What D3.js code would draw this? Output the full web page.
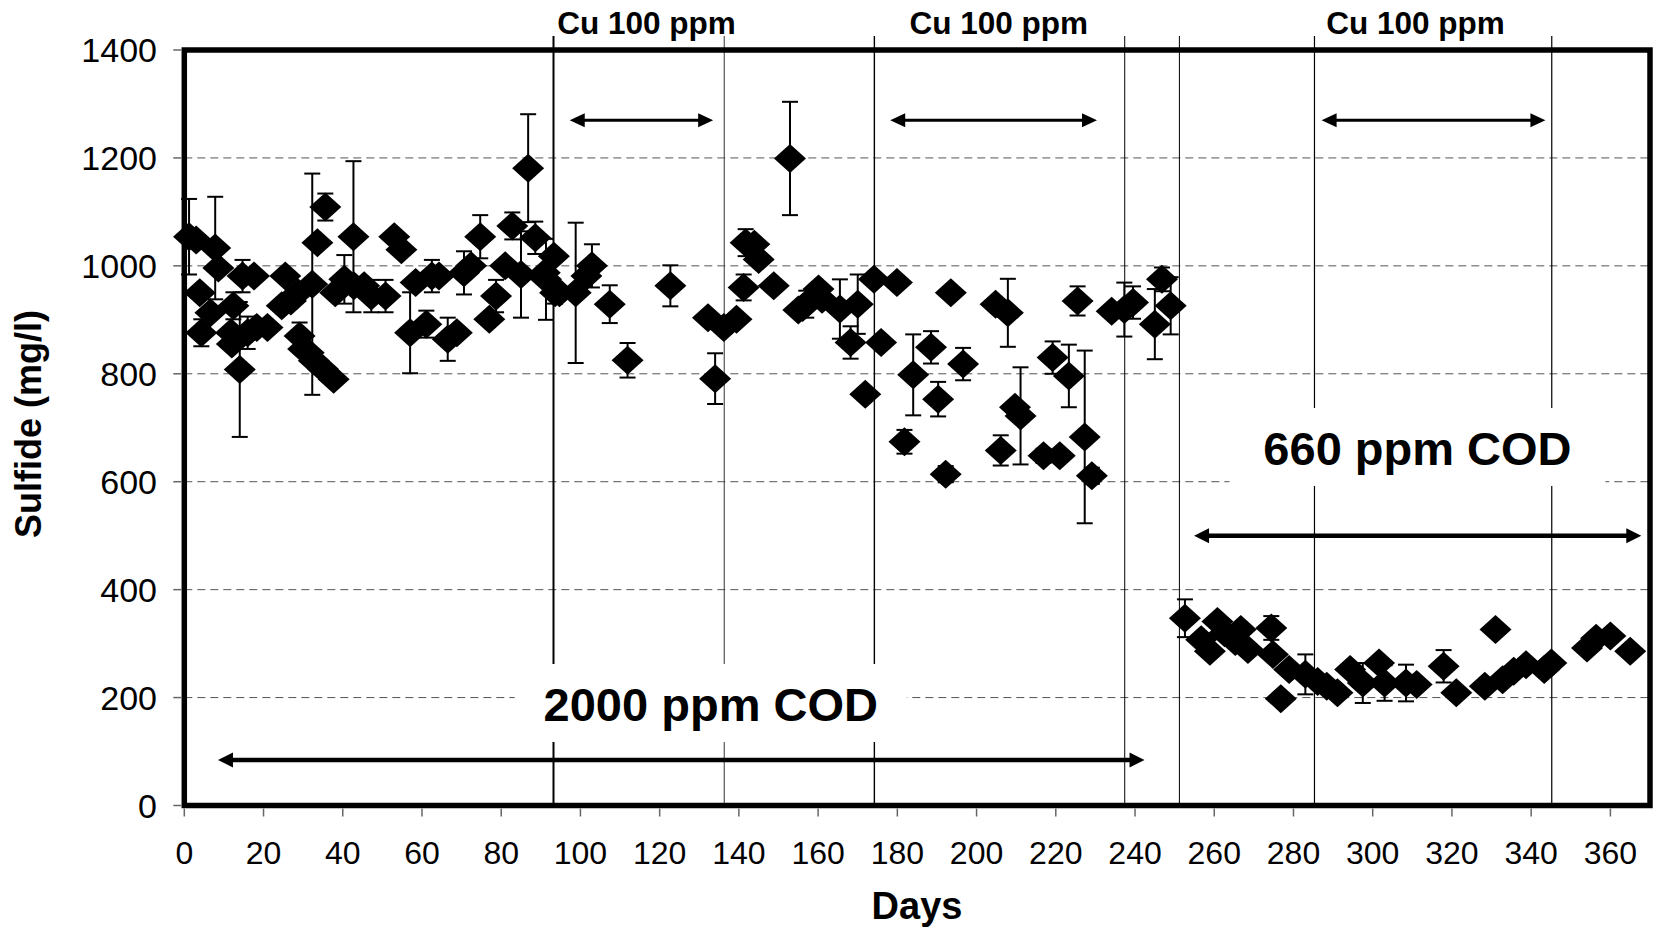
<!DOCTYPE html>
<html>
<head>
<meta charset="utf-8">
<script src="https://cdn.jsdelivr.net/npm/d3@7"></script>
<style>
  body { margin: 0; background: #fff; }
  text { font-family: "Liberation Sans", Arial, sans-serif; fill: #000; }
</style>
</head>
<body>
<div id="chart"></div>
<script>
// sulfide readings (day, mg/l, +/- error)
var days = [1.2,3.0,3.9,4.3,6.6,7.8,8.6,11.8,12.0,12.4,14.0,14.7,16.0,17.6,18.3,21.0,24.6,25.5,26.9,28.7,
  29.1,30.0,31.4,32.3,32.7,33.6,35.0,35.6,37.7,38.1,40.4,42.7,42.8,45.4,47.2,50.8,53.0,54.8,57.0,58.4,
  61.1,62.5,64.3,66.5,68.8,70.6,72.4,74.7,77.0,78.7,81.0,82.8,85.0,86.8,88.6,91.0,91.3,93.3,93.6,94.7,
  98.8,101.5,102.9,107.4,111.9,122.7,132.2,134.0,136.2,139.4,141.2,141.7,143.9,145.0,148.8,152.9,155.0,156.1,157.0,160.1,
  161.0,165.5,168.2,170.0,171.9,174.1,175.9,179.9,
  181.8,184.0,188.5,190.3,192.2,193.5,196.6,204.8,206.1,207.9,209.7,211.1,216.9,219.2,221.0,223.3,225.5,227.3,229.1,234.1,
  237.3,239.5,245.0,246.8,249.0,
  252.6,256.7,258.9,260.8,262.6,265.3,266.7,268.5,274.4,274.8,276.8,278.9,283.0,286.1,288.4,291.1,294.3,297.5,301.6,303.0,
  308.4,311.1,317.9,321.1,328.3,331.0,332.8,335.6,338.7,343.3,345.1,354.1,356.4,360.0,365.0];

var sulfide = [1054,1048,950,876,913,1033,996,876,855,926,808,981,876,981,886,886,926,981,935,950,
  870,846,839,966,824,1043,809,1109,790,950,975,1054,963,963,944,944,1054,1030,876,969,
  892,981,981,864,876,987,1000,1054,901,944,1000,1074,984,1181,1052,987,975,1018,950,950,
  950,981,1000,929,825,963,904,791,886,901,960,1043,1040,1012,963,1199,918,923,929,957,
  938,920,858,929,762,975,858,969,
  674,798,849,753,614,950,818,929,658,913,738,722,648,830,648,796,935,683,611,916,
  919,932,892,975,926,
  347,307,286,341,320,304,326,289,329,280,198,252,243,230,221,209,252,227,264,227,
  227,224,258,209,221,326,233,249,261,252,264,292,310,314,286];

var errs = [70,0,0,25,0,95,0,0,0,25,125,30,30,0,0,0,0,0,0,0,
  25,0,0,205,0,0,0,25,0,0,45,140,0,0,30,30,0,0,75,0,
  25,30,0,40,0,40,0,40,0,30,0,25,80,100,30,0,75,0,20,0,
  130,0,40,35,32,38,0,47,0,0,24,25,0,0,0,105,0,0,25,0,
  0,55,30,55,0,0,0,0,
  22,75,30,32,15,0,30,0,28,63,0,90,13,30,0,58,27,160,15,0,
  50,30,65,22,53,
  35,0,0,0,0,0,0,0,22,0,0,0,37,0,0,0,0,37,0,33,
  34,0,30,0,0,0,0,0,0,0,0,0,0,0,0];

var xTicks = d3.range(0, 361, 20);
var yTicks = d3.range(0, 1401, 200);

// days where the phase lines are drawn
var phaseDays = [93.2, 136.3, 174.2, 237.4, 251.2, 285.3, 345.2];
var phaseWidth = [2, 1, 1.4, 1, 1, 1.2, 1.2];

// copper dosing periods (arrows at top) and labels
var cuLabelDays = [116.7, 205.6, 310.8];
var cuArrows = [[97.3, 133.5], [178.2, 230.4], [287.1, 343.6]];

var W = 1653, H = 931;

var svg = d3.select("#chart").append("svg")
    .attr("width", W)
    .attr("height", H);

var x = d3.scaleLinear().domain([0, 370]).range([184.3, 1650]);
var y = d3.scaleLinear().domain([0, 1400]).range([805.5, 50]);

//dashed horizontal grid
svg.append("g").selectAll("line")
    .data(yTicks.slice(1, -1))
    .enter().append("line")
    .attr("x1", x(0)).attr("x2", x(370))
    .attr("y1", function(d){ return y(d); })
    .attr("y2", function(d){ return y(d); })
    .attr("stroke", "#555")
    .attr("stroke-width", 1)
    .attr("stroke-dasharray", "8,5");

//phase lines, they poke above the frame
svg.append("g").selectAll("line")
    .data(phaseDays)
    .enter().append("line")
    .attr("x1", function(d){ return x(d); })
    .attr("x2", function(d){ return x(d); })
    .attr("y1", 36)
    .attr("y2", y(0))
    .attr("stroke", function(d, i){ return i == 1 ? "#333" : "#000"; })
    .attr("stroke-width", function(d, i){ return phaseWidth[i]; });

//white boxes behind the big COD labels
function codLabel(txt, cx, base, boxW){
    svg.append("rect")
        .attr("x", x(cx) - boxW / 2)
        .attr("y", y(base) - 57)
        .attr("width", boxW)
        .attr("height", 78)
        .attr("fill", "#fff");
    svg.append("text")
        .attr("x", x(cx))
        .attr("y", y(base))
        .attr("text-anchor", "middle")
        .style("font-size", "47px")
        .style("font-weight", "bold")
        .text(txt);
}
codLabel("2000 ppm COD", 132.9, 156.6, 392);
codLabel("660 ppm COD", 311.3, 631, 376);

//double headed arrows
function arrow(d0, d1, v, sw, hl, hw){
    var xa = x(d0), xb = x(d1), ya = y(v);
    svg.append("line")
        .attr("x1", xa + hl - 2).attr("x2", xb - hl + 2)
        .attr("y1", ya).attr("y2", ya)
        .attr("stroke", "#000")
        .attr("stroke-width", sw);
    svg.append("path")
        .attr("d", "M" + xa + "," + ya + "L" + (xa + hl) + "," + (ya - hw) + "L" + (xa + hl) + "," + (ya + hw) + "Z" +
                   "M" + xb + "," + ya + "L" + (xb - hl) + "," + (ya - hw) + "L" + (xb - hl) + "," + (ya + hw) + "Z")
        .attr("fill", "#000");
}
cuArrows.forEach(function(a){ arrow(a[0], a[1], 1270, 3, 15, 7); });
arrow(8.5, 242.4, 84.4, 4.5, 15, 7.5);
arrow(254.9, 367.8, 500, 4.5, 15, 7.5);

//Cu labels above the frame
svg.append("g").selectAll("text")
    .data(cuLabelDays)
    .enter().append("text")
    .attr("x", function(d){ return x(d); })
    .attr("y", 34)
    .attr("text-anchor", "middle")
    .style("font-size", "31.5px")
    .style("font-weight", "bold")
    .text("Cu 100 ppm");

//error bars
var pts = days.map(function(d, i){ return {day: d, val: sulfide[i], err: errs[i]}; });
var eb = svg.append("g").selectAll("g")
    .data(pts.filter(function(p){ return p.err > 0; }))
    .enter().append("g")
    .attr("stroke", "#000")
    .attr("stroke-width", 2);
eb.append("line")
    .attr("x1", function(p){ return x(p.day); })
    .attr("x2", function(p){ return x(p.day); })
    .attr("y1", function(p){ return y(p.val + p.err); })
    .attr("y2", function(p){ return y(p.val - p.err); });
[1, -1].forEach(function(s){
    eb.append("line")
        .attr("x1", function(p){ return x(p.day) - 8; })
        .attr("x2", function(p){ return x(p.day) + 8; })
        .attr("y1", function(p){ return y(p.val + s * p.err); })
        .attr("y2", function(p){ return y(p.val + s * p.err); });
});

//diamond markers
svg.append("g").selectAll("path")
    .data(pts)
    .enter().append("path")
    .attr("d", "M0,-14.5L16,0L0,14.5L-16,0Z")
    .attr("transform", function(p){ return "translate(" + x(p.day) + "," + y(p.val) + ")"; })
    .attr("fill", "#000");

//frame
svg.append("rect")
    .attr("x", x(0)).attr("y", y(1400))
    .attr("width", x(370) - x(0))
    .attr("height", y(0) - y(1400))
    .attr("fill", "none")
    .attr("stroke", "#000")
    .attr("stroke-width", 5.5);

//y axis ticks and labels
var yAx = svg.append("g");
yAx.selectAll("line")
    .data(yTicks)
    .enter().append("line")
    .attr("x1", x(0) - 11).attr("x2", x(0) - 3)
    .attr("y1", function(d){ return y(d); })
    .attr("y2", function(d){ return y(d); })
    .attr("stroke", "#666")
    .attr("stroke-width", 1.5);
yAx.selectAll("text")
    .data(yTicks)
    .enter().append("text")
    .attr("x", 157)
    .attr("y", function(d){ return y(d) + 12; })
    .attr("text-anchor", "end")
    .style("font-size", "34px")
    .text(function(d){ return d; });

//x axis ticks and labels
var xAx = svg.append("g");
xAx.selectAll("line")
    .data(xTicks)
    .enter().append("line")
    .attr("x1", function(d){ return x(d); })
    .attr("x2", function(d){ return x(d); })
    .attr("y1", y(0) + 3).attr("y2", y(0) + 11)
    .attr("stroke", "#666")
    .attr("stroke-width", 1.5);
xAx.selectAll("text")
    .data(xTicks)
    .enter().append("text")
    .attr("x", function(d){ return x(d); })
    .attr("y", 864)
    .attr("text-anchor", "middle")
    .style("font-size", "32px")
    .text(function(d){ return d; });

//axis titles
svg.append("text")
    .attr("x", 917).attr("y", 919)
    .attr("text-anchor", "middle")
    .style("font-size", "38px")
    .style("font-weight", "bold")
    .text("Days");
svg.append("text")
    .attr("transform", "translate(41,424) rotate(-90)")
    .attr("text-anchor", "middle")
    .style("font-size", "36px")
    .style("font-weight", "bold")
    .text("Sulfide (mg/l)");
</script>
</body>
</html>
